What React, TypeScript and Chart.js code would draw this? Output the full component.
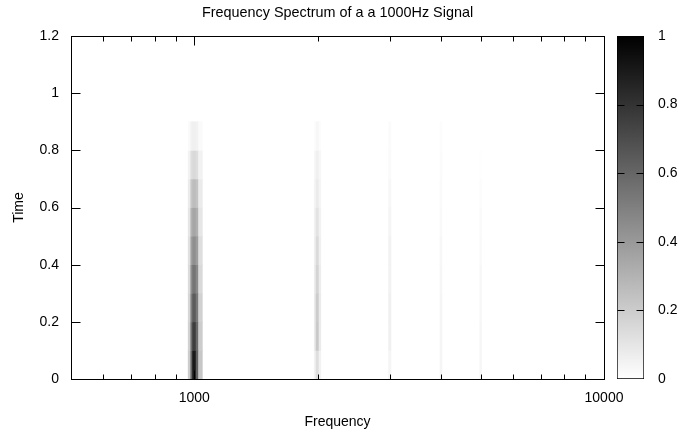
import React, { useEffect, useRef } from 'react';
import { Chart, registerables } from 'chart.js';

Chart.register(...registerables);

const TITLE = 'Frequency Spectrum of a a 1000Hz Signal';
const X_TITLE = 'Frequency';
const Y_TITLE = 'Time';

// time bins (centres of 0.1 s rows)
const timeBins = [0.05, 0.15, 0.25, 0.35, 0.45, 0.55, 0.65, 0.75, 0.85];

// 1000 Hz fundamental: frequency bin edges and intensity per time row (bottom -> top)
const h1000Edges = [966, 980, 990, 1010, 1024, 1046];
const h1000Values = [
  [0.2, 0.6, 0.9, 0.62, 0.22],
  [0.18, 0.56, 0.76, 0.58, 0.2],
  [0.16, 0.5, 0.64, 0.52, 0.18],
  [0.14, 0.44, 0.54, 0.46, 0.15],
  [0.12, 0.37, 0.44, 0.38, 0.13],
  [0.1, 0.3, 0.35, 0.31, 0.1],
  [0.08, 0.22, 0.26, 0.23, 0.08],
  [0.05, 0.13, 0.15, 0.13, 0.05],
  [0.02, 0.05, 0.06, 0.05, 0.02],
];

// 2000 Hz harmonic
const h2000Edges = [1962, 1982, 2016, 2036];
const h2000Values = [
  [0.05, 0.13, 0.05],
  [0.08, 0.21, 0.08],
  [0.08, 0.2, 0.08],
  [0.07, 0.17, 0.07],
  [0.06, 0.14, 0.06],
  [0.05, 0.11, 0.05],
  [0.04, 0.08, 0.04],
  [0.03, 0.06, 0.03],
  [0.01, 0.03, 0.01],
];

// 3000 Hz harmonic
const h3000Edges = [2980, 3020];
const h3000Values = [[0.04], [0.06], [0.06], [0.05], [0.05], [0.04], [0.03], [0.02], [0.015]];

// 4000 Hz harmonic
const h4000Edges = [3978, 4022];
const h4000Values = [[0.04], [0.04], [0.04], [0.035], [0.03], [0.025], [0.02], [0.015], [0.01]];

// 5000 Hz harmonic
const h5000Edges = [4976, 5024];
const h5000Values = [[0.035], [0.035], [0.03], [0.03], [0.025], [0.02], [0.01], [0.005], [0]];

// axes
const xMin = 500;
const xMax = 10000;
const yMin = 0;
const yMax = 1.2;
const xMajorTicks = [1000, 10000];
const xMinorTicks = [600, 700, 800, 900, 2000, 3000, 4000, 5000, 6000, 7000, 8000, 9000];
const yTicks = [0, 0.2, 0.4, 0.6, 0.8, 1, 1.2];
const cbTicks = [0, 0.2, 0.4, 0.6, 0.8, 1];
const cbInnerTicks = [0.2, 0.4, 0.6, 0.8];
const cbRange = [0, 1];

const FONT = '"Liberation Sans", Arial, Helvetica, sans-serif';

function gray(v: number): string {
  const g = Math.round(255 * (1 - Math.max(0, Math.min(1, v))));
  return `rgb(${g},${g},${g})`;
}

const harmonics = [
  { edges: h1000Edges, values: h1000Values },
  { edges: h2000Edges, values: h2000Values },
  { edges: h3000Edges, values: h3000Values },
  { edges: h4000Edges, values: h4000Values },
  { edges: h5000Edges, values: h5000Values },
];

function buildCells() {
  const data: { x: number[]; y: number }[] = [];
  const colors: string[] = [];
  harmonics.forEach(({ edges, values }) => {
    values.forEach((row, r) => {
      row.forEach((v, s) => {
        if (v <= 0) return;
        data.push({ x: [edges[s], edges[s + 1]], y: timeBins[r] });
        colors.push(gray(v));
      });
    });
  });
  return { data, colors };
}

const framePlugin = {
  id: 'frame',
  afterDraw(chart: any) {
    const { ctx, chartArea: a, scales } = chart;
    const x = scales.x;
    const y = scales.y;
    ctx.save();
    ctx.strokeStyle = '#000';
    ctx.lineWidth = 1;
    ctx.beginPath();
    const L = Math.round(a.left) + 0.5;
    const R = Math.round(a.right) + 0.5;
    const T = Math.round(a.top) + 0.5;
    const B = Math.round(a.bottom) + 0.5;
    yTicks.forEach((v) => {
      const py = Math.round(y.getPixelForValue(v)) + 0.5;
      ctx.moveTo(L, py);
      ctx.lineTo(L + 9, py);
      ctx.moveTo(R, py);
      ctx.lineTo(R - 9, py);
    });
    xMajorTicks.forEach((v) => {
      const px = Math.round(x.getPixelForValue(v)) + 0.5;
      ctx.moveTo(px, B);
      ctx.lineTo(px, B - 9);
      ctx.moveTo(px, T);
      ctx.lineTo(px, T + 9);
    });
    xMinorTicks.forEach((v) => {
      const px = Math.round(x.getPixelForValue(v)) + 0.5;
      ctx.moveTo(px, B);
      ctx.lineTo(px, B - 5);
      ctx.moveTo(px, T);
      ctx.lineTo(px, T + 5);
    });
    ctx.stroke();
    ctx.strokeRect(L, T, R - L, B - T);
    ctx.restore();
  },
};

const cbPlugin = {
  id: 'cbticks',
  afterDraw(chart: any) {
    const { ctx, chartArea: a, scales } = chart;
    const y = scales.y;
    ctx.save();
    ctx.strokeStyle = '#000';
    ctx.lineWidth = 1;
    ctx.beginPath();
    const L = Math.round(a.left) + 0.5;
    const R = Math.round(a.right) - 0.5;
    cbInnerTicks.forEach((v) => {
      const py = Math.round(y.getPixelForValue(v)) + 0.5;
      ctx.moveTo(L, py);
      ctx.lineTo(L + 7, py);
      ctx.moveTo(R, py);
      ctx.lineTo(R - 7, py);
    });
    ctx.stroke();
    ctx.restore();
  },
};

export default function App() {
  const mainRef = useRef<HTMLCanvasElement | null>(null);
  const cbRef = useRef<HTMLCanvasElement | null>(null);

  useEffect(() => {
    Chart.defaults.font.family = FONT;
    Chart.defaults.color = '#000';
    const { data, colors } = buildCells();
    const font = { family: FONT, size: 14, weight: 'normal' as const };
    const titleFont = { family: FONT, size: 14.4, weight: 'normal' as const };

    const main = new Chart(mainRef.current!, {
      type: 'bar',
      data: {
        datasets: [
          {
            data: data as any,
            backgroundColor: colors,
            borderWidth: 0,
            barPercentage: 1,
            categoryPercentage: 1,
          },
        ],
      },
      options: {
        indexAxis: 'y',
        animation: false,
        responsive: false,
        events: [],
        layout: { padding: { left: 0, right: 75, top: 0, bottom: 0 } },
        plugins: {
          legend: { display: false },
          tooltip: { enabled: false },
          title: { display: false },
        },
        scales: {
          x: {
            type: 'logarithmic',
            position: 'bottom',
            min: xMin,
            max: xMax,
            offset: false,
            grid: { display: false, drawTicks: false, offset: false },
            border: { display: false },
            afterBuildTicks: (s: any) => {
              s.ticks = xMajorTicks.map((v) => ({ value: v }));
            },
            ticks: {
              callback: (v: any) => String(v),
              padding: 10.6,
              maxRotation: 0,
              autoSkip: false,
              font,
              color: '#000',
            },
            title: {
              display: true,
              text: X_TITLE,
              font,
              color: '#000',
              padding: { top: 0, bottom: 6.6 },
            },
            afterFit: (s: any) => {
              s.height = 58;
            },
          },
          top: {
            type: 'linear',
            position: 'top',
            min: 0,
            max: 1,
            grid: { display: false, drawTicks: false },
            border: { display: false },
            ticks: { display: false },
            title: {
              display: true,
              text: TITLE,
              font: titleFont,
              color: '#000',
              padding: { top: 4.4, bottom: 0 },
            },
            afterFit: (s: any) => {
              s.height = 36;
            },
          },
          y: {
            type: 'linear',
            position: 'left',
            min: yMin,
            max: yMax,
            offset: false,
            grid: { display: false, drawTicks: false, offset: false },
            border: { display: false },
            afterBuildTicks: (s: any) => {
              s.ticks = yTicks.map((v) => ({ value: v }));
            },
            ticks: {
              callback: (v: any) => String(v),
              padding: 12,
              autoSkip: false,
              font,
              color: '#000',
            },
            title: {
              display: true,
              text: Y_TITLE,
              font,
              color: '#000',
              padding: { top: 10.6, bottom: 0 },
            },
            afterFit: (s: any) => {
              s.width = 71;
            },
          },
        },
      } as any,
      plugins: [framePlugin],
    });

    const cb = new Chart(cbRef.current!, {
      type: 'bar',
      data: {
        labels: [''],
        datasets: [
          {
            data: [cbRange] as any,
            backgroundColor: (c: any) => {
              const area = c.chart.chartArea;
              if (!area) return '#fff';
              const g = c.chart.ctx.createLinearGradient(0, area.bottom, 0, area.top);
              g.addColorStop(0, '#ffffff');
              g.addColorStop(1, '#000000');
              return g;
            },
            borderColor: '#000',
            borderWidth: 1,
            borderSkipped: false,
            barPercentage: 1,
            categoryPercentage: 1,
          },
        ],
      },
      options: {
        animation: false,
        responsive: false,
        events: [],
        layout: { padding: { left: 17, right: 0, top: 36, bottom: 58 } },
        plugins: {
          legend: { display: false },
          tooltip: { enabled: false },
          title: { display: false },
        },
        scales: {
          x: { display: false },
          y: {
            type: 'linear',
            position: 'right',
            min: 0,
            max: 1,
            grid: { display: false, drawTicks: false },
            border: { display: false },
            afterBuildTicks: (s: any) => {
              s.ticks = cbTicks.map((v) => ({ value: v }));
            },
            ticks: {
              callback: (v: any) => String(v),
              padding: 14,
              autoSkip: false,
              font,
              color: '#000',
            },
            afterFit: (s: any) => {
              s.width = 35;
            },
          },
        },
      } as any,
      plugins: [cbPlugin],
    });

    return () => {
      main.destroy();
      cb.destroy();
    };
  }, []);

  return (
    <div style={{ position: 'absolute', left: 0, top: 0, width: 679, height: 437, background: '#fff' }}>
      <canvas
        ref={mainRef}
        width={679}
        height={437}
        style={{ position: 'absolute', left: 0, top: 0, width: 679, height: 437 }}
      />
      <canvas
        ref={cbRef}
        width={79}
        height={437}
        style={{ position: 'absolute', left: 600, top: 0, width: 79, height: 437 }}
      />
    </div>
  );
}
